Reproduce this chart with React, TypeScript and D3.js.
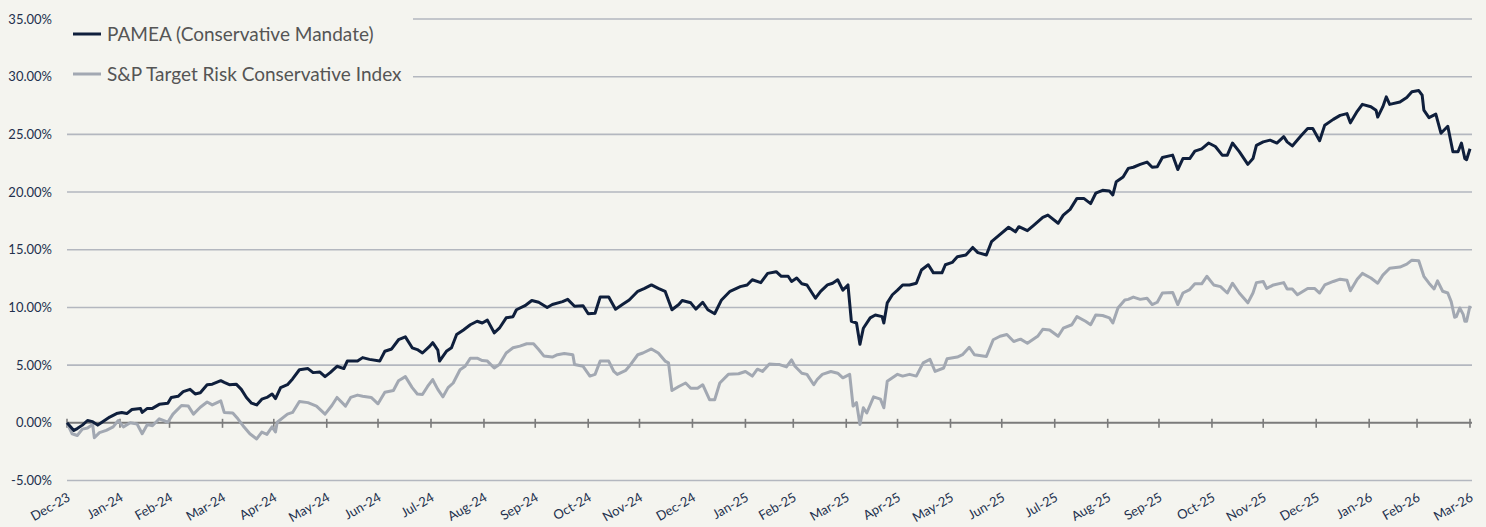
import React, { useEffect } from 'react';
import * as d3 from 'd3';

// chart data -------------------------------------------------------------
const startDate = new Date(2023, 11, 31);
const endDate = new Date(2026, 2, 31);

const seriesNames = ['PAMEA (Conservative Mandate)', 'S&P Target Risk Conservative Index'];
const seriesColors = ['#0f1f3c', '#a2a8b2'];
const yTicks = [-5, 0, 5, 10, 15, 20, 25, 30, 35];

// [days since 31 Dec 2023, cumulative return in %]
const pamea: [number, number][] = [
  [0, 0], [4, -0.66], [6, -0.5], [9, -0.2], [12, 0.2], [15, 0.1], [18, -0.2], [20, 0], [25, 0.5], [29, 0.8],
  [32, 0.9], [35, 0.8], [38, 1.15], [43, 1.25], [44, 0.9], [47, 1.25], [50, 1.25], [54, 1.6], [59, 1.7], [61, 2.2],
  [65, 2.3], [68, 2.7], [72, 2.9], [75, 2.5], [78, 2.6], [82, 3.3], [85, 3.35], [90, 3.65], [92, 3.5], [95, 3.3],
  [99, 3.35], [102, 2.9], [105, 2.2], [108, 1.7], [111, 1.55], [114, 2.05], [117, 2.2], [120, 2.5], [122, 2.1], [125, 3.05],
  [129, 3.3], [132, 3.8], [136, 4.6], [141, 4.7], [144, 4.35], [148, 4.4], [151, 4.0], [154, 4.35], [158, 4.9], [162, 4.7],
  [164, 5.35], [170, 5.35], [173, 5.65], [177, 5.5], [183, 5.35], [186, 6.2], [190, 6.4], [194, 7.2], [198, 7.45], [202, 6.5],
  [205, 6.35], [208, 6.05], [212, 6.6], [214, 6.95], [217, 6.3], [218, 5.35], [222, 6.2], [225, 6.5], [228, 7.65], [232, 8.05],
  [236, 8.5], [240, 8.8], [243, 8.65], [246, 8.9], [250, 7.8], [253, 8.2], [257, 9.1], [261, 9.2], [263, 9.8], [268, 10.15],
  [272, 10.6], [276, 10.45], [281, 10.0], [284, 10.25], [290, 10.5], [293, 10.7], [297, 10.1], [302, 10.15], [305, 9.45], [309, 9.5],
  [312, 10.9], [317, 10.9], [321, 9.85], [325, 10.25], [329, 10.65], [334, 11.4], [338, 11.65], [342, 11.95], [346, 11.65], [350, 11.4],
  [354, 9.8], [358, 10.25], [360, 10.6], [365, 10.4], [368, 9.85], [372, 10.45], [375, 9.8], [379, 9.45], [383, 10.65], [388, 11.4],
  [394, 11.8], [398, 11.95], [401, 12.4], [406, 12.15], [410, 12.95], [415, 13.1], [418, 12.7], [422, 12.7], [424, 12.25], [427, 12.55],
  [430, 12.05], [433, 11.95], [436, 11.25], [438, 10.8], [441, 11.4], [445, 11.95], [448, 12.1], [451, 12.4], [454, 11.5], [457, 11.95],
  [459, 8.8], [462, 8.65], [464, 6.8], [466, 8.2], [470, 9.1], [473, 9.35], [477, 9.2], [478, 8.65], [480, 10.4], [483, 11.1],
  [486, 11.5], [489, 11.95], [493, 11.95], [497, 12.1], [500, 13.25], [504, 13.7], [507, 13.0], [512, 13.0], [514, 13.7], [518, 13.9],
  [521, 14.4], [526, 14.55], [530, 15.2], [533, 14.75], [538, 14.55], [541, 15.7], [545, 16.2], [551, 16.95], [555, 16.55], [557, 17.0],
  [562, 16.65], [566, 17.15], [571, 17.8], [574, 18.0], [580, 17.3], [583, 18.0], [587, 18.5], [591, 19.45], [595, 19.45], [599, 19.0],
  [602, 19.9], [606, 20.15], [610, 20.1], [612, 19.75], [614, 20.9], [618, 21.3], [621, 22.05], [624, 22.15], [628, 22.4], [632, 22.6],
  [635, 22.15], [638, 22.2], [641, 23.0], [647, 23.2], [650, 21.95], [653, 22.9], [657, 22.9], [660, 23.55], [664, 23.75], [668, 24.25],
  [672, 23.95], [676, 23.2], [679, 23.2], [682, 24.25], [686, 23.5], [691, 22.4], [694, 22.9], [696, 24.05], [700, 24.35], [704, 24.5],
  [708, 24.25], [712, 24.8], [714, 24.35], [717, 24.0], [722, 24.85], [726, 25.5], [729, 25.5], [733, 24.45], [736, 25.8], [741, 26.3],
  [745, 26.65], [749, 26.8], [751, 26.0], [755, 27.0], [758, 27.6], [763, 27.4], [766, 27.1], [767, 26.5], [770, 27.4], [772, 28.25],
  [774, 27.6], [780, 27.8], [784, 28.2], [787, 28.7], [791, 28.8], [793, 28.4], [794, 27.1], [797, 26.45], [801, 26.75], [804, 25.1],
  [808, 25.7], [811, 23.5], [814, 23.5], [816, 24.25], [818, 22.9], [819, 22.8], [821, 23.75],
];

const spIndex: [number, number][] = [
  [0, 0], [3, -0.95], [6, -1.1], [9, -0.55], [12, -0.45], [15, -0.15], [16, -1.3], [19, -0.85], [23, -0.65], [27, -0.35],
  [30, 0.2], [33, -0.35], [37, 0], [41, -0.1], [44, -0.95], [47, -0.15], [50, -0.25], [54, 0.35], [59, 0.05], [62, 0.75],
  [67, 1.5], [71, 1.45], [74, 0.75], [78, 1.35], [82, 1.8], [85, 1.55], [90, 1.9], [92, 0.9], [97, 0.85], [100, 0.35],
  [103, -0.25], [107, -0.95], [111, -1.4], [114, -0.8], [117, -1.0], [120, -0.35], [122, -0.8], [123, 0.05], [129, 0.75], [132, 0.9],
  [136, 1.85], [141, 1.75], [146, 1.45], [151, 0.75], [155, 1.5], [158, 2.2], [163, 1.45], [166, 2.2], [170, 2.4], [173, 2.3],
  [178, 2.2], [182, 1.65], [186, 2.65], [191, 2.8], [194, 3.65], [198, 4.0], [202, 3.05], [205, 2.5], [208, 2.45], [211, 3.15],
  [214, 3.75], [215, 3.45], [217, 2.9], [220, 2.25], [223, 3.05], [226, 3.45], [230, 4.6], [233, 4.9], [236, 5.6], [240, 5.6],
  [243, 5.4], [246, 5.35], [250, 4.75], [253, 5.05], [257, 6.05], [261, 6.5], [265, 6.65], [269, 6.85], [273, 6.85], [276, 6.35],
  [279, 5.8], [284, 5.7], [287, 5.9], [291, 6.0], [296, 5.9], [297, 5.05], [302, 4.9], [306, 4.05], [309, 4.2], [312, 5.35],
  [317, 5.35], [320, 4.45], [322, 4.2], [327, 4.55], [329, 4.9], [334, 5.9], [337, 6.05], [342, 6.4], [346, 6.05], [350, 5.35],
  [352, 5.2], [354, 2.8], [358, 3.15], [362, 3.45], [365, 3.0], [369, 3.0], [372, 3.3], [376, 2.0], [379, 2.0], [382, 3.45],
  [387, 4.2], [393, 4.25], [397, 4.45], [401, 4.05], [404, 4.65], [407, 4.45], [411, 5.1], [415, 5.05], [417, 5.05], [421, 4.85],
  [424, 5.45], [426, 4.9], [430, 4.3], [433, 4.2], [437, 3.3], [439, 3.75], [442, 4.2], [447, 4.45], [451, 4.3], [454, 3.9],
  [458, 4.2], [460, 1.45], [462, 1.75], [464, -0.15], [466, 1.3], [468, 0.85], [472, 2.25], [476, 2.05], [478, 1.3], [480, 3.6],
  [486, 4.2], [489, 4.05], [493, 4.2], [497, 4.05], [501, 5.2], [505, 5.5], [508, 4.45], [513, 4.75], [515, 5.55], [521, 5.7],
  [524, 5.9], [528, 6.55], [531, 5.9], [538, 5.75], [542, 7.2], [546, 7.5], [550, 7.65], [554, 7.05], [558, 7.25], [562, 6.9],
  [568, 7.5], [571, 8.1], [575, 8.05], [580, 7.5], [583, 8.2], [588, 8.5], [591, 9.2], [596, 8.8], [599, 8.5], [602, 9.35],
  [606, 9.3], [610, 9.1], [612, 8.65], [615, 9.95], [619, 10.65], [621, 10.7], [624, 10.9], [628, 10.7], [632, 10.8], [635, 10.25],
  [638, 10.45], [641, 11.25], [647, 11.3], [650, 10.25], [653, 11.25], [657, 11.55], [660, 12.05], [664, 12.05], [667, 12.7], [671, 11.95],
  [675, 11.8], [679, 11.25], [682, 12.1], [686, 11.25], [691, 10.4], [694, 11.25], [696, 12.15], [700, 12.25], [702, 11.65], [706, 11.95],
  [712, 12.15], [714, 11.6], [717, 11.6], [720, 11.1], [726, 11.65], [730, 11.65], [733, 11.25], [736, 11.95], [741, 12.25], [745, 12.45],
  [749, 12.35], [751, 11.45], [755, 12.45], [758, 12.95], [763, 12.55], [767, 12.1], [770, 12.8], [774, 13.4], [780, 13.5], [784, 13.75],
  [787, 14.1], [791, 14.05], [794, 12.7], [797, 12.1], [800, 11.6], [802, 12.3], [805, 11.4], [808, 11.25], [810, 10.5], [812, 9.15],
  [813, 9.2], [815, 9.95], [817, 9.4], [818, 8.8], [819, 8.8], [821, 10.15],
];

const allSeries = [pamea, spIndex];

// layout ----------------------------------------------------------------
const W = 1486;
const H = 527;
const BG = '#f4f4ef';
const FONT = 'Lato, "Open Sans", sans-serif';

export default function App() {
  useEffect(() => {
    document.body.style.margin = '0';
    document.body.style.background = BG;
  }, []);

  const x = d3.scaleTime().domain([startDate, endDate]).range([67, 1470]);
  const y = d3.scaleLinear().domain([-5, 35]).range([480.5, 19]);

  // month-end ticks, labelled with the month they close
  const monthTicks = d3.timeMonth
    .range(new Date(2024, 0, 1), new Date(2026, 3, 2))
    .map((d) => d3.timeDay.offset(d, -1));
  const fmt = d3.timeFormat('%b-%y');

  const line = d3
    .line<[number, number]>()
    .x((d) => x(d3.timeDay.offset(startDate, d[0])))
    .y((d) => y(d[1]));

  return (
    <svg width={W} height={H} style={{ display: 'block', background: BG }} fontFamily={FONT}>
      <rect x={0} y={0} width={W} height={H} fill={BG} />

      {/* gridlines */}
      {yTicks.filter((t) => t !== 0).map((t) => (
        <line key={t} x1={67} x2={1472} y1={y(t)} y2={y(t)} stroke="#b3b7bf" strokeWidth={1.6} />
      ))}

      {/* y labels */}
      {yTicks.map((t) => (
        <text key={'l' + t} x={52} y={y(t)} dy="0.35em" textAnchor="end" fontSize={13} fill="#22304d">
          {t.toFixed(2) + '%'}
        </text>
      ))}

      {/* zero axis with month ticks */}
      <line x1={67} x2={1472} y1={y(0)} y2={y(0)} stroke="#7b7b7b" strokeWidth={2} />
      {monthTicks.map((d) => (
        <line key={+d} x1={x(d)} x2={x(d)} y1={y(0) - 4} y2={y(0) + 5} stroke="#7b7b7b" strokeWidth={1.6} />
      ))}

      {/* series, index drawn first so the mandate sits on top */}
      {allSeries.slice().reverse().map((s, i) => (
        <path
          key={i}
          d={line(s) || ''}
          fill="none"
          stroke={seriesColors[allSeries.length - 1 - i]}
          strokeWidth={3}
          strokeLinejoin="round"
        />
      ))}

      {/* x labels */}
      {monthTicks.map((d) => (
        <text
          key={'x' + +d}
          transform={`translate(${x(d) + 4},${500}) rotate(-30)`}
          textAnchor="end"
          fontSize={13}
          fill="#22304d"
        >
          {fmt(d)}
        </text>
      ))}

      {/* legend */}
      <rect x={62} y={8} width={351} height={84} fill={BG} />
      {seriesNames.map((name, i) => (
        <g key={name} transform={`translate(73,${34 + i * 40})`}>
          <line x1={0} x2={28} y1={0} y2={0} stroke={seriesColors[i]} strokeWidth={3} />
          <text x={34} y={0} dy="0.35em" fontSize={19} fill="#555555">
            {name}
          </text>
        </g>
      ))}
    </svg>
  );
}
